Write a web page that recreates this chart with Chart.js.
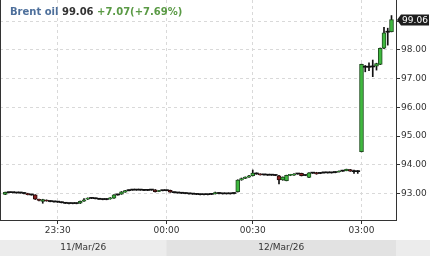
<!DOCTYPE html>
<html><head><meta charset="utf-8">
<script src="https://cdn.jsdelivr.net/npm/chart.js@4/dist/chart.umd.min.js"></script>
<style>html,body{margin:0;padding:0;background:#fff;}canvas{display:block}</style>
</head><body>
<canvas id="c" width="430" height="256"></canvas>
<script>
const instrument = 'Brent oil';
const lastPriceText = '99.06';
const changeText = '+7.07(+7.69%)';

const open  = [92.97,93.04,93.03,93.03,93.02,93.02,93.00,92.96,92.95,92.80,92.72,92.77,92.74,92.72,92.71,92.70,92.68,92.66,92.65,92.65,
               92.66,92.73,92.80,92.84,92.83,92.82,92.80,92.79,92.81,92.84,92.95,92.98,93.05,93.10,93.12,93.13,93.12,93.12,93.11,93.12,
               93.13,93.07,93.10,93.10,93.11,93.05,93.03,93.02,93.01,93.00,92.99,92.98,92.97,92.96,92.96,92.97,92.99,93.02,93.00,92.99,
               92.99,93.00,93.06,93.47,93.53,93.57,93.62,93.70,93.68,93.65,93.65,93.64,93.64,93.62,93.47,93.45,93.63,93.64,93.68,93.70,
               93.63,93.56,93.72,93.73,93.70,93.72,93.72,93.72,93.73,93.75,93.78,93.80,93.83,93.77,93.76,94.46,97.42,97.40,97.41,97.44,
               97.50,98.06,98.62,98.64];
const high  = [93.05,93.05,93.04,93.04,93.03,93.03,93.01,92.97,92.96,92.81,92.80,92.78,92.75,92.73,92.72,92.71,92.69,92.67,92.66,92.67,
               92.74,92.82,92.85,92.85,92.84,92.83,92.81,92.82,92.86,92.96,92.98,93.07,93.11,93.13,93.14,93.14,93.13,93.13,93.13,93.13,
               93.14,93.11,93.11,93.12,93.12,93.06,93.04,93.03,93.02,93.01,93.00,92.99,92.98,92.97,92.98,92.99,93.05,93.03,93.01,93.00,
               93.01,93.03,93.48,93.54,93.58,93.63,93.82,93.72,93.69,93.66,93.66,93.65,93.65,93.63,93.58,93.64,93.67,93.69,93.70,93.71,
               93.64,93.73,93.73,93.74,93.73,93.73,93.73,93.74,93.76,93.79,93.81,93.85,93.84,93.82,93.80,97.51,97.46,97.55,97.65,97.54,
               98.07,98.79,98.76,99.20];
const low   = [92.96,93.02,93.02,93.01,93.01,92.99,92.95,92.94,92.79,92.74,92.66,92.73,92.71,92.70,92.69,92.67,92.65,92.64,92.64,92.64,
               92.65,92.72,92.79,92.82,92.81,92.79,92.78,92.78,92.80,92.83,92.94,92.97,93.04,93.09,93.11,93.11,93.11,93.10,93.10,93.11,
               93.05,93.06,93.09,93.09,93.04,93.02,93.01,93.00,92.99,92.98,92.97,92.96,92.95,92.95,92.95,92.96,92.98,92.99,92.98,92.98,
               92.98,92.99,93.05,93.46,93.52,93.56,93.61,93.67,93.64,93.64,93.63,93.63,93.62,93.33,93.46,93.44,93.62,93.63,93.67,93.61,
               93.62,93.55,93.70,93.67,93.69,93.71,93.71,93.71,93.72,93.74,93.77,93.79,93.77,93.70,93.70,94.45,97.24,97.28,97.07,97.30,
               97.49,98.05,98.17,98.63];
const close = [93.04,93.03,93.03,93.02,93.02,93.00,92.96,92.95,92.80,92.76,92.79,92.74,92.72,92.71,92.70,92.68,92.66,92.65,92.65,92.66,
               92.73,92.78,92.84,92.83,92.82,92.80,92.79,92.81,92.85,92.95,92.97,93.06,93.10,93.12,93.13,93.12,93.12,93.11,93.12,93.12,
               93.06,93.10,93.10,93.11,93.05,93.03,93.02,93.01,93.00,92.99,92.98,92.97,92.96,92.96,92.97,92.98,93.03,93.00,92.99,92.99,
               93.00,93.02,93.47,93.52,93.57,93.62,93.71,93.68,93.65,93.65,93.64,93.64,93.63,93.47,93.57,93.63,93.66,93.68,93.69,93.62,
               93.63,93.72,93.71,93.68,93.72,93.72,93.72,93.73,93.75,93.78,93.80,93.84,93.78,93.76,93.76,97.50,97.40,97.41,97.42,97.53,
               98.06,98.60,98.62,99.06];

const lastPrice = 99.06;
const yTicks = [93, 94, 95, 96, 97, 98, 99];
const tickIndex = [14, 43, 66, 95];
const tickLabels = ['23:30', '00:00', '00:30', '03:00'];
const dayLabels = ['11/Mar/26', '12/Mar/26'];
const dayBreakIndex = 43;

const FONT = 'DejaVu Sans';
const bodyColor = [], bodyBorder = [], bodyBW = [];
for (let i = 0; i < open.length; i++) {
  const d = close[i] - open[i];
  if (d >= 0.03) { bodyColor.push('#3fb83f'); bodyBorder.push('#1f4f1f'); bodyBW.push(1); }
  else if (d <= -0.03) { bodyColor.push('#8c2323'); bodyBorder.push('#2a0a0a'); bodyBW.push(1); }
  else { bodyColor.push('#111'); bodyBorder.push('#111'); bodyBW.push(0); }
}

const decor = {
  id: 'decor',
  afterDraw(chart) {
    const ctx = chart.ctx, ca = chart.chartArea, xs = chart.scales.x, ys = chart.scales.y;
    ctx.save();
    ctx.strokeStyle = '#333'; ctx.lineWidth = 1;
    ctx.beginPath(); ctx.moveTo(ca.left + 0.5, ca.top); ctx.lineTo(ca.left + 0.5, ca.bottom); ctx.stroke();
    const bandTop = 240, bandBot = chart.height;
    const xb = xs.getPixelForValue(dayBreakIndex);
    ctx.fillStyle = '#ececec'; ctx.fillRect(0, bandTop, chart.width, bandBot - bandTop);
    ctx.fillStyle = '#e2e2e2'; ctx.fillRect(xb, bandTop, ca.right - xb, bandBot - bandTop);
    ctx.fillStyle = '#333'; ctx.font = '9px "' + FONT + '"'; ctx.textAlign = 'center'; ctx.textBaseline = 'middle';
    ctx.fillText(dayLabels[0], (ca.left + xb) / 2, 248);
    ctx.fillText(dayLabels[1], (xb + ca.right) / 2, 248);
    ctx.textAlign = 'left'; ctx.textBaseline = 'alphabetic';
    ctx.font = 'bold 10px "' + FONT + '"';
    let x = 10; const by = 15;
    ctx.fillStyle = '#4d6f9b'; ctx.fillText(instrument, x, by); x += ctx.measureText(instrument + ' ').width;
    ctx.fillStyle = '#333'; ctx.fillText(lastPriceText, x, by); x += ctx.measureText(lastPriceText + ' ').width;
    ctx.fillStyle = '#5a9a45'; ctx.fillText(changeText, x, by);
    const py = Math.round(ys.getPixelForValue(lastPrice));
    ctx.fillStyle = '#1e1e1e';
    ctx.beginPath();
    ctx.moveTo(ca.right + 1, py);
    ctx.lineTo(ca.right + 5, py - 5.5);
    ctx.lineTo(chart.width - 1, py - 5.5);
    ctx.lineTo(chart.width - 1, py + 5.5);
    ctx.lineTo(ca.right + 5, py + 5.5);
    ctx.closePath(); ctx.fill();
    ctx.fillStyle = '#fff'; ctx.font = '9px "' + FONT + '"'; ctx.textAlign = 'center'; ctx.textBaseline = 'middle';
    ctx.fillText(lastPriceText, (ca.right + 5 + chart.width - 1) / 2, py + 0.5);
    ctx.restore();
  }
};

new Chart(document.getElementById('c'), {
  type: 'bar',
  data: {
    datasets: [
      {
        label: 'wick',
        data: open.map((_, i) => ({ x: i, y: [low[i], high[i]] })),
        backgroundColor: '#111', borderWidth: 0,
        barThickness: 1, grouped: false, order: 2
      },
      {
        label: 'body',
        data: open.map((_, i) => ({ x: i, y: [open[i], close[i]] })),
        backgroundColor: bodyColor, borderColor: bodyBorder, borderWidth: bodyBW,
        borderSkipped: false, barThickness: 4, minBarLength: 1, grouped: false, order: 1
      }
    ]
  },
  options: {
    responsive: false, animation: false, devicePixelRatio: 1,
    layout: { padding: 0 },
    plugins: { legend: { display: false }, tooltip: { enabled: false }, title: { display: false } },
    events: [],
    scales: {
      x: {
        type: 'linear', min: -1.4, max: 104.2, offset: false,
        afterBuildTicks(s) { s.ticks = tickIndex.map(v => ({ value: v })); },
        afterFit(s) { s.height = 36; s.paddingLeft = 0; s.paddingRight = 0; },
        ticks: { autoSkip: false, maxRotation: 0, padding: 1, color: '#333',
                 font: { family: FONT, size: 9 },
                 callback: (v, i) => tickLabels[i] },
        grid: { offset: false, color: '#d9d9d9', tickLength: 4, tickColor: '#333', lineWidth: 1 },
        border: { color: '#333', dash: [3, 3] }
      },
      y: {
        position: 'right', min: 92.077, max: 99.742,
        afterBuildTicks(s) { s.ticks = yTicks.map(v => ({ value: v })); },
        afterFit(s) { s.width = 34; s.paddingTop = 0; s.paddingBottom = 0; },
        ticks: { padding: 1, color: '#333', font: { family: FONT, size: 9 },
                 callback: v => Number(v).toFixed(2) },
        grid: { color: '#d9d9d9', tickLength: 4, tickColor: '#333', lineWidth: 1 },
        border: { color: '#333', dash: [3, 3] }
      }
    }
  },
  plugins: [decor]
});
</script>
</body></html>
